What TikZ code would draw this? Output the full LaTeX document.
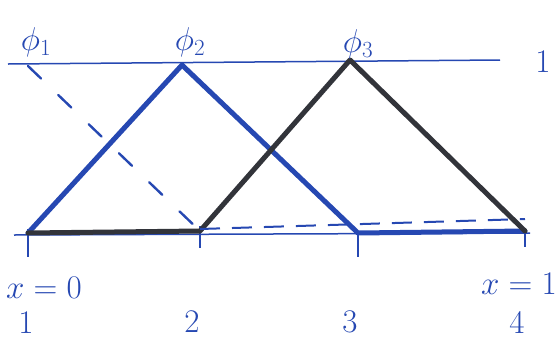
\RequirePackage{fix-cm}
\documentclass[tikz,border=0pt]{standalone}
\usetikzlibrary{positioning}
\definecolor{penblue}{RGB}{38,72,178}
\definecolor{penblack}{RGB}{50,52,58}

\begin{document}
\begin{tikzpicture}[x=1pt, y=-1pt,
    hatline/.style={line width=5pt, line join=round, line cap=round},
    guide/.style={penblue, line width=1.5pt},
    tickmark/.style={penblue, line width=1.8pt},
    lbl/.style={penblue, inner sep=0pt, font=\fontsize{33}{38}\selectfont}]
    \useasboundingbox (0,0) rectangle (558,341);

    % nodes on the axis and tops of the hats
    \coordinate (n1) at (28,233);
    \coordinate (n2) at (200,231);
    \coordinate (n3) at (358,233);
    \coordinate (n4) at (525,231);
    \coordinate (t1) at (28,66);
    \coordinate (t2) at (182,65);
    \coordinate (t3) at (350,60);
    \coordinate (a0) at (14,235);
    \coordinate (a1) at (530,233);
    \coordinate (l0) at (8,64);
    \coordinate (l1) at (500,60);

    % axis and the level 1
    \draw[guide] (a0) -- (a1);
    \draw[guide] (l0) -- (l1);
    \draw[tickmark] (n1) ++(0,-4) -- ++(0,28);
    \draw[tickmark] (n2) ++(0,-5) -- ++(0,22);
    \draw[tickmark] (n3) ++(0,-2) -- ++(0,26);
    \draw[tickmark] (n4) ++(0,-1) -- ++(0,17);

    % phi_1, dashed
    \draw[penblue, line width=2.4pt, line cap=round, dash pattern=on 18pt off 24pt] (t1) -- (n2);
    % phi_2
    \draw[hatline, penblue] (n1) -- (t2) -- (n3) -- (n4);
    % phi_3
    \draw[hatline, penblack] (n1) -- (n2) -- (t3) -- (n4);
    \draw[penblue, line width=2pt, dash pattern=on 20pt off 12pt] ([yshift=2pt]n2) -- ([yshift=12pt]n4);

    % labels
    \node[lbl] (phi1) at (36,42) {$\phi_1$};
    \node[lbl] (phi2) at (190,42) {$\phi_2$};
    \node[lbl] (phi3) at (358,44) {$\phi_3$};
    \node[lbl] (one) at (543,62) {1};
    \node[lbl, anchor=west] (xleft) at (6,288) {$x=0$};
    \node[lbl, anchor=east] (xright) at (557,284) {$x=1$};
    \node[lbl] (k1) at (26,323) {1};
    \node[lbl] (k2) at (192,322) {2};
    \node[lbl] (k3) at (350,322) {3};
    \node[lbl] (k4) at (517,322) {4};
\end{tikzpicture}
\end{document}
